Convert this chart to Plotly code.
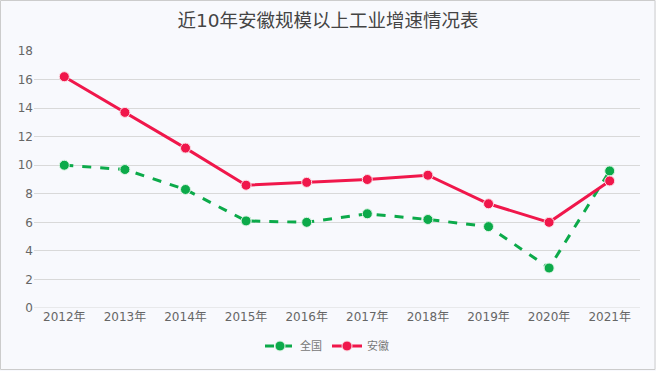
import plotly.graph_objects as go

years = ["2012年", "2013年", "2014年", "2015年", "2016年", "2017年", "2018年", "2019年", "2020年", "2021年"]
national = [10.0, 9.7, 8.3, 6.1, 6.0, 6.6, 6.2, 5.7, 2.8, 9.6]
anhui = [16.2, 13.7, 11.2, 8.6, 8.8, 9.0, 9.3, 7.3, 6.0, 8.9]

GREEN = "#0CAA4A"
RED = "#F0174B"
FONT = "DejaVu Sans, Noto Sans CJK SC, sans-serif"

fig = go.Figure()
fig.add_trace(go.Scatter(
    x=years, y=national, name="全国", mode="lines+markers",
    line=dict(color=GREEN, width=3, dash="dash"),
    marker=dict(size=10, color=GREEN, line=dict(color="#DFF5E6", width=1)),
))
fig.add_trace(go.Scatter(
    x=years, y=anhui, name="安徽", mode="lines+markers",
    line=dict(color=RED, width=3),
    marker=dict(size=10, color=RED, line=dict(color="#FBE0E6", width=1)),
))

L, R, T, B = 34, 16, 51, 63
W, H = 656, 371
pw, ph = W - L - R, H - T - B

fig.update_layout(
    width=W, height=H,
    margin=dict(l=L, r=R, t=T, b=B, autoexpand=False),
    paper_bgcolor="#F8F9FD", plot_bgcolor="#F8F9FD",
    font=dict(family=FONT, color="#666666", size=12),
    title=dict(text="近10年安徽规模以上工业增速情况表", x=0.5, xanchor="center",
               y=1 - 21 / H, yanchor="middle",
               font=dict(size=18.5, color="#444444", family=FONT)),
    showlegend=True,
    legend=dict(orientation="h", x=0.5 - 10 / pw, xanchor="center", y=(308 - 346) / ph, yanchor="middle",
                font=dict(size=11, color="#777777"), bgcolor="rgba(0,0,0,0)",
                itemwidth=30),
    xaxis=dict(type="category", range=[-0.5, len(years) - 0.5], showgrid=False, showline=False,
               zeroline=False, ticks="", automargin=False, tickfont=dict(size=12, color="#666666")),
    yaxis=dict(range=[0, 18], dtick=2, showgrid=True, gridcolor="#D9D9D9", gridwidth=1,
               automargin=False, zeroline=False, showline=False, ticks="",
               tickfont=dict(size=12, color="#666666")),
    shapes=[dict(type="rect", xref="paper", yref="paper",
                 x0=(0.5 - L) / pw, x1=(655 - L) / pw,
                 y0=(308 - 369.5) / ph, y1=(308 - 0.5) / ph,
                 line=dict(color="#CCCCCC", width=1), fillcolor="rgba(0,0,0,0)", layer="above")],
)
fig.add_shape(type="line", xref="paper", yref="y", x0=0, x1=1, y0=0, y1=0,
              line=dict(color="#D9D9D9", width=1), layer="below")

fig.write_html("out.html", config={"displayModeBar": False},
               post_script="document.body.style.margin='0';document.body.style.overflow='hidden';")
